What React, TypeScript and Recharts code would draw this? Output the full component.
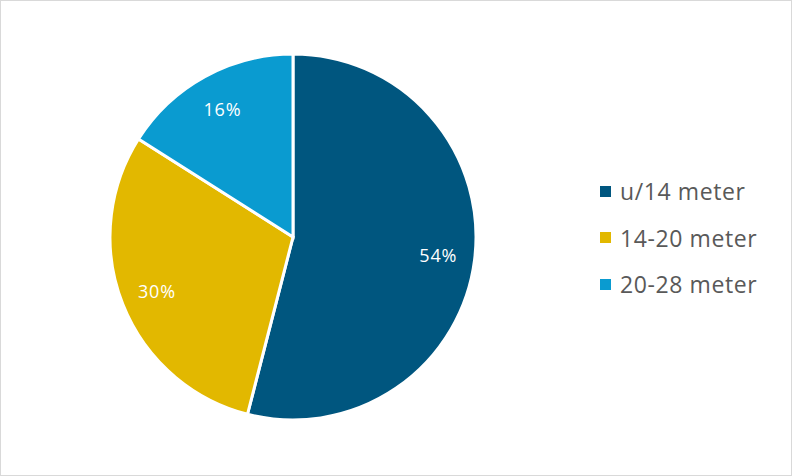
import React from "react";
import { PieChart, Pie, Cell } from "recharts";

const categories = ["u/14 meter", "14-20 meter", "20-28 meter"];
const values = [54, 30, 16];
const colors = ["#00567F", "#E2B800", "#0A9BD0"];

const data = categories.map((name, i) => ({ name, value: values[i] }));

const RAD = Math.PI / 180;
const renderLabel = (props: any) => {
  const { cx, cy, midAngle, outerRadius, value } = props;
  const r = outerRadius * 0.8;
  const x = cx + r * Math.cos(-midAngle * RAD);
  const y = cy + r * Math.sin(-midAngle * RAD);
  return (
    <text x={x} y={y} fill="#ffffff" textAnchor="middle" dominantBaseline="central"
      fontFamily="'Open Sans', sans-serif" fontSize={18} letterSpacing={0.8}>
      {value}%
    </text>
  );
};

export default function App() {
  return (
    <div style={{ position: "absolute", left: 0, top: 0, width: 792, height: 476, boxSizing: "border-box", border: "1px solid #d9d9d9", background: "#fff" }}>
      <div style={{ position: "absolute", left: -1, top: -1 }}>
        <PieChart width={792} height={476} margin={{ top: 0, right: 0, bottom: 0, left: 0 }}>
          <Pie
            data={data}
            dataKey="value"
            nameKey="name"
            cx={293}
            cy={237}
            outerRadius={183}
            startAngle={90}
            endAngle={-270}
            stroke="#ffffff"
            strokeWidth={3}
            label={renderLabel}
            labelLine={false}
            isAnimationActive={false}
          >
            {data.map((d, i) => (
              <Cell key={d.name} fill={colors[i]} />
            ))}
          </Pie>
        </PieChart>
      </div>
      <div style={{ position: "absolute", left: 599, top: 167, fontFamily: "'Open Sans', sans-serif" }}>
        {categories.map((c, i) => (
          <div key={c} style={{ display: "flex", alignItems: "center", height: 46.5 }}>
            <span style={{ width: 11, height: 11, background: colors[i], display: "inline-block", marginRight: 9 }} />
            <span style={{ fontSize: 23, letterSpacing: 0.6, color: "#595959" }}>{c}</span>
          </div>
        ))}
      </div>
    </div>
  );
}
